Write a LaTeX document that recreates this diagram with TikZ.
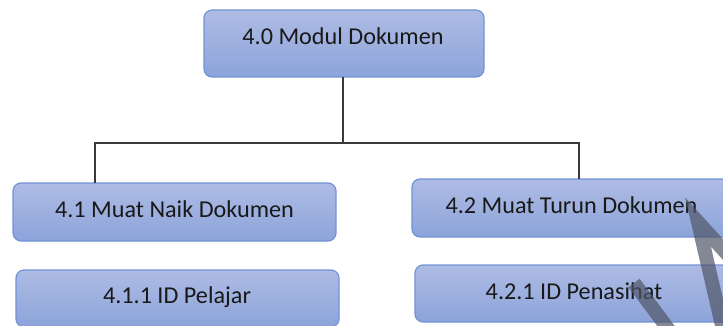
\documentclass[tikz,border=0pt]{standalone}
\usepackage{fontspec}
\setmainfont{Carlito}
\definecolor{boxtop}{HTML}{AEBCE4}
\definecolor{boxbot}{HTML}{8CA3DA}
\definecolor{boxline}{HTML}{7293D4}
\definecolor{linecol}{HTML}{3A3A3A}
\definecolor{wmark}{HTML}{505668}
\tikzset{
  modbox/.style={draw=boxline, line width=1.2pt, rounded corners=8pt, top color=boxtop, bottom color=boxbot},
  lbl/.style={anchor=base, inner sep=0pt, text=black!90, font=\fontsize{24.2}{29}\selectfont},
  conn/.style={draw=linecol, line width=1.6pt},
  wm/.style={draw=wmark, opacity=0.7, line width=14pt}
}
\begin{document}
\begin{tikzpicture}[x=1pt,y=-1pt]
\useasboundingbox (0,0) rectangle (723,326);
\clip (0,0) rectangle (723,326);
% boxes
\path[modbox] (204,10) rectangle (484,77);
\path[modbox] (13,183) rectangle (336,241);
\path[modbox] (16,270) rectangle (339,327);
\path[modbox] (412,179) rectangle (740,237);
\path[modbox] (415,265) rectangle (740,322);
% box anchors
\coordinate (topb) at (343,77);
\coordinate (j0) at (343,143);
\coordinate (jl) at (95,143);
\coordinate (jr) at (579,143);
\coordinate (b41) at (95,183);
\coordinate (b42) at (579,179);
% labels
\node[lbl] (t40) at (343,44.5) {4.0 Modul Dokumen};
\node[lbl] (t41) at (174.5,217.5) {4.1 Muat Naik Dokumen};
\node[lbl] (t411) at (177,303) {4.1.1 ID Pelajar};
\node[lbl] (t42) at (571.5,213.5) {4.2 Muat Turun Dokumen};
\node[lbl] (t421) at (574,299.5) {4.2.1 ID Penasihat};
% connectors
\draw[conn] (topb) -- (j0);
\draw[conn] (b41) -- (jl) -- (jr) -- (b42);
% watermark strokes
\coordinate (w1) at (698,222);
\coordinate (w2) at (724,334);
\coordinate (w3) at (738,266);
\coordinate (w4) at (634,283);
\coordinate (w5) at (672,334);
\draw[wm] (w2) -- (w1) -- (w3);
\draw[wm] (w4) -- (w5);
\end{tikzpicture}
\end{document}
